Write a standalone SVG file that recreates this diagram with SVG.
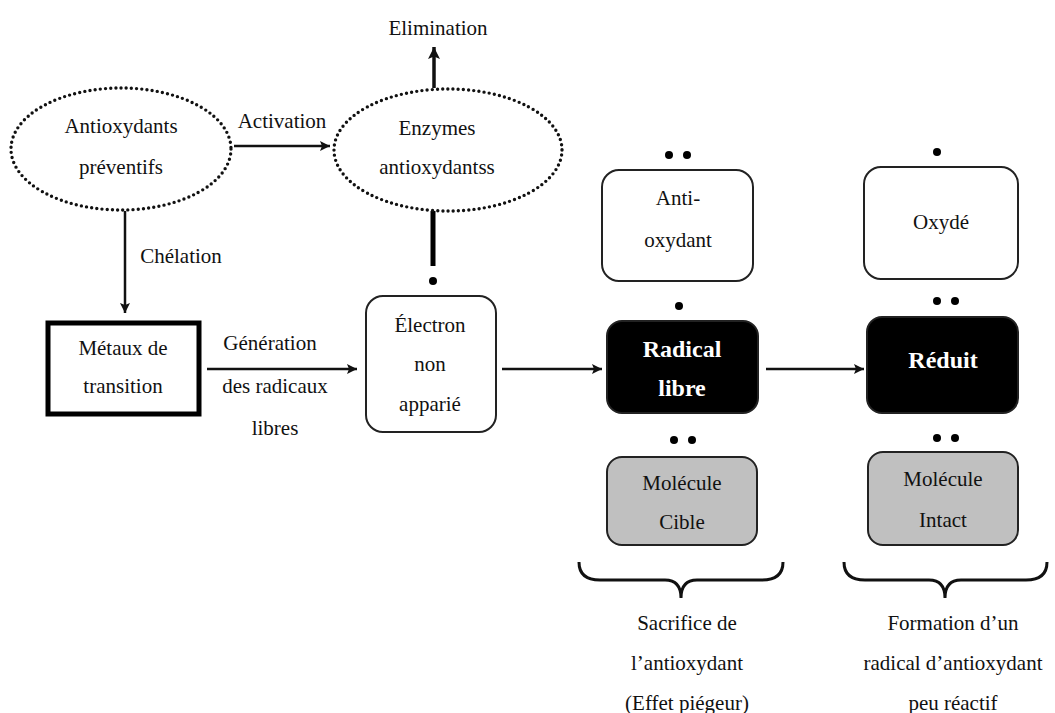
<svg xmlns="http://www.w3.org/2000/svg" width="1055" height="713" viewBox="0 0 1055 713" font-family="Liberation Serif, DejaVu Serif, serif">
<defs>
<style>
text{font-family:'Liberation Serif','DejaVu Serif',serif;font-size:21px;fill:#111;text-anchor:middle}
.w{fill:#fff;font-weight:bold;font-size:24px}
.box{fill:#fff;stroke:#222;stroke-width:2}
.blk{fill:#000;stroke:#222;stroke-width:2}
.gry{fill:#c0c0c0;stroke:#222;stroke-width:2}
.ell{fill:none;stroke:#111;stroke-width:3.4;stroke-dasharray:0 5.2;stroke-linecap:round}
.ar{fill:none;stroke:#111;stroke-width:2.5}
.br{fill:none;stroke:#111;stroke-width:3}
.dot{fill:#000}
</style>
<marker id="ah" viewBox="0 0 10 10" refX="10" refY="5" markerWidth="10" markerHeight="10" markerUnits="userSpaceOnUse" orient="auto">
<path d="M0,0 L10,5 L0,10 L2,5 Z" fill="#111"/>
</marker>
<marker id="ah2" viewBox="0 0 10 10" refX="10" refY="5" markerWidth="12" markerHeight="12" markerUnits="userSpaceOnUse" orient="auto">
<path d="M0,0 L10,5 L0,10 L2,5 Z" fill="#111"/>
</marker>
</defs>
<rect width="1055" height="713" fill="#fff"/>

<g id="connectors">
<line class="ar" x1="234" y1="146" x2="330" y2="146" marker-end="url(#ah)"/>
<line class="ar" x1="125" y1="211" x2="125" y2="313" marker-end="url(#ah)"/>
<line class="ar" x1="207" y1="369" x2="357" y2="369" marker-end="url(#ah)"/>
<line class="ar" x1="502" y1="369" x2="602" y2="369" marker-end="url(#ah)"/>
<line class="ar" x1="766" y1="369" x2="864" y2="369" marker-end="url(#ah)"/>
<line x1="434" y1="88" x2="434" y2="47" stroke="#111" stroke-width="3.5" marker-end="url(#ah2)"/>
<line x1="433" y1="211" x2="433" y2="266" stroke="#000" stroke-width="5"/>
<text x="282" y="128">Activation</text>
<text x="181" y="263">Chélation</text>
<text x="270" y="350">Génération</text>
<text x="275" y="393">des radicaux</text>
<text x="275" y="435">libres</text>
</g>

<g id="elimination"><text x="438" y="35">Elimination</text></g>

<g id="preventifs">
<ellipse class="ell" cx="121" cy="149" rx="110" ry="61"/>
<text x="121" y="133">Antioxydants</text>
<text x="121" y="174">préventifs</text>
</g>

<g id="enzymes">
<ellipse class="ell" cx="448" cy="150" rx="114" ry="61"/>
<text x="437" y="135">Enzymes</text>
<text x="437" y="174">antioxydantss</text>
</g>

<g id="metaux">
<rect x="48" y="323" width="151" height="91" fill="#fff" stroke="#000" stroke-width="5"/>
<text x="123" y="355">Métaux de</text>
<text x="123" y="393">transition</text>
</g>

<g id="electron">
<circle class="dot" cx="433" cy="281" r="4"/>
<rect class="box" x="366" y="296" width="130" height="136" rx="17"/>
<text x="430" y="332">Électron</text>
<text x="430" y="371">non</text>
<text x="430" y="411">apparié</text>
</g>

<g id="antioxydant">
<circle class="dot" cx="669" cy="155" r="4"/>
<circle class="dot" cx="687" cy="155" r="4"/>
<rect class="box" x="602" y="170" width="151" height="111" rx="17"/>
<text x="678" y="205">Anti-</text>
<text x="678" y="247">oxydant</text>
</g>

<g id="oxyde">
<circle class="dot" cx="937" cy="152" r="4"/>
<rect class="box" x="864" y="167" width="154" height="112" rx="17"/>
<text x="941" y="229">Oxydé</text>
</g>

<g id="radical">
<circle class="dot" cx="679" cy="306" r="4"/>
<rect class="blk" x="607" y="321" width="151" height="92" rx="15"/>
<text class="w" x="682" y="357">Radical</text>
<text class="w" x="682" y="396">libre</text>
</g>

<g id="reduit">
<circle class="dot" cx="937" cy="301" r="4"/>
<circle class="dot" cx="955" cy="301" r="4"/>
<rect class="blk" x="867" y="317" width="151" height="96" rx="15"/>
<text class="w" x="943" y="368">Réduit</text>
</g>

<g id="cible">
<circle class="dot" cx="674" cy="440" r="4"/>
<circle class="dot" cx="692" cy="440" r="4"/>
<rect class="gry" x="607" y="457" width="150" height="88" rx="15"/>
<text x="682" y="490">Molécule</text>
<text x="682" y="529">Cible</text>
</g>

<g id="intact">
<circle class="dot" cx="937" cy="438" r="4"/>
<circle class="dot" cx="955" cy="438" r="4"/>
<rect class="gry" x="868" y="452" width="150" height="93" rx="15"/>
<text x="943" y="486">Molécule</text>
<text x="943" y="527">Intact</text>
</g>

<g id="sacrifice">
<path class="br" d="M579,562 Q579,580 600,580 L665,580 Q681,580 681,598 Q681,580 697,580 L762,580 Q783,580 783,562"/>
<text x="687" y="630">Sacrifice de</text>
<text x="687" y="670">l’antioxydant</text>
<text x="687" y="710">(Effet piégeur)</text>
</g>

<g id="formation">
<path class="br" d="M844,562 Q844,580 865,580 L929,580 Q945,580 945,598 Q945,580 961,580 L1026,580 Q1047,580 1047,562"/>
<text x="953" y="630">Formation d’un</text>
<text x="953" y="670">radical d’antioxydant</text>
<text x="953" y="710">peu réactif</text>
</g>
</svg>
